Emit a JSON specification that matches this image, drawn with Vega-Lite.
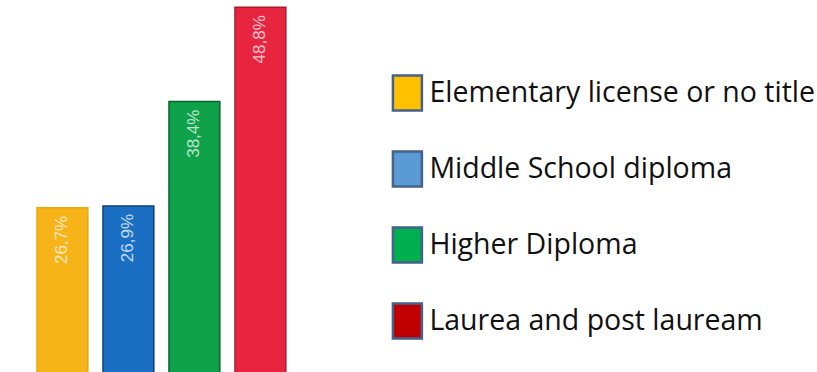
{
  "$schema": "https://vega.github.io/schema/vega-lite/v6.json",
  "width": 264,
  "height": 372,
  "autosize": {"type": "none"},
  "padding": {"left": 29.4, "top": 0, "right": 523.6, "bottom": 0},
  "background": "white",
  "config": {"view": {"stroke": null}},
  "data": {
    "values": [
      {"category": "Elementary license or no title", "value": 26.7, "label": "26,7%"},
      {"category": "Middle School diploma", "value": 26.9, "label": "26,9%"},
      {"category": "Higher Diploma", "value": 38.4, "label": "38,4%"},
      {"category": "Laurea and post lauream", "value": 48.8, "label": "48,8%"}
    ]
  },
  "encoding": {
    "x": {
      "field": "category",
      "type": "nominal",
      "sort": null,
      "axis": null,
      "scale": {"paddingInner": 0.23, "paddingOuter": 0.115}
    },
    "y": {
      "field": "value",
      "type": "quantitative",
      "axis": null,
      "scale": {"domain": [8.6, 49.6], "zero": false, "nice": false}
    }
  },
  "layer": [
    {
      "mark": {"type": "bar", "strokeWidth": 1.5},
      "encoding": {
        "color": {
          "field": "category",
          "type": "nominal",
          "sort": null,
          "legend": null,
          "scale": {"range": ["#F6B418", "#1B6FC2", "#0FA24B", "#E8253F"]}
        },
        "stroke": {
          "field": "category",
          "type": "nominal",
          "sort": null,
          "legend": null,
          "scale": {"range": ["#E9A812", "#0E3F7E", "#0B5F2C", "#A81B2E"]}
        }
      }
    },
    {
      "mark": {"type": "text", "angle": 270, "align": "right", "baseline": "middle", "dx": -8, "font": "Liberation Sans", "fontSize": 17, "fill": "white", "opacity": 0.72},
      "encoding": {"text": {"field": "label"}}
    },
    {
      "mark": {"type": "point", "shape": "square", "filled": true, "opacity": 0},
      "encoding": {
        "fill": {
          "field": "category",
          "type": "nominal",
          "sort": null,
          "scale": {"range": ["#FFC000", "#5B9BD5", "#00B050", "#C00000"]},
          "legend": {
            "title": null,
            "orient": "none",
            "legendX": 362,
            "legendY": 77,
            "padding": 0,
            "symbolType": "M-1,-1.2H1V1.2H-1Z",
            "symbolSize": 841,
            "symbolStrokeColor": "#44628C",
            "symbolStrokeWidth": 2.5,
            "symbolOpacity": 1,
            "symbolOffset": 0,
            "labelFont": "Open Sans",
            "labelFontSize": 28.5,
            "labelColor": "#111111",
            "labelLimit": 600,
            "labelOffset": 6,
            "rowPadding": 30
          }
        }
      }
    }
  ]
}
